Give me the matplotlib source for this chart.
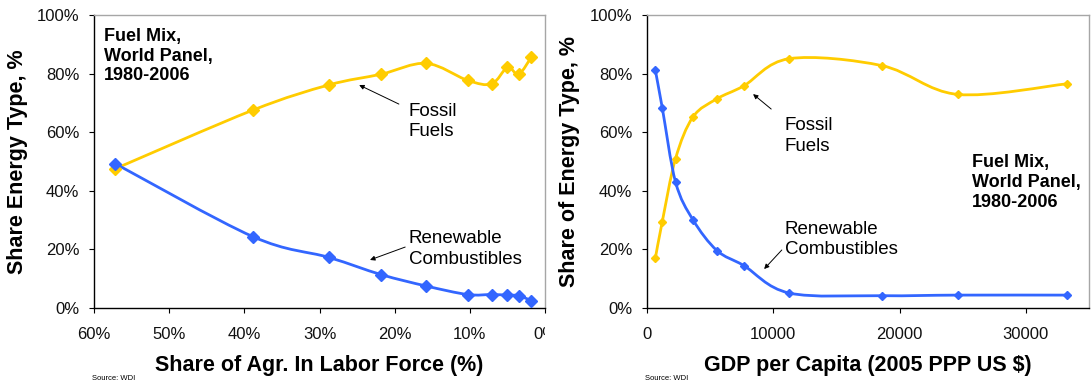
import numpy as np
import matplotlib
matplotlib.use('Agg')
import matplotlib.pyplot as plt
from matplotlib.path import Path
from matplotlib.patches import PathPatch
from matplotlib.ticker import FuncFormatter
from matplotlib.transforms import Bbox, TransformedBbox

plt.rcParams['font.family'] = ['Liberation Sans', 'DejaVu Sans']

# left panel: share of agriculture in labour force (%)
agr_share = [57.2, 38.9, 28.8, 21.8, 15.8, 10.3, 7.1, 5.0, 3.5, 1.8]
agr_fossil = [47.5, 67.5, 76.1, 79.8, 83.5, 77.7, 76.5, 82.1, 79.8, 85.7]
agr_renew = [49.3, 24.4, 17.3, 11.4, 7.5, 4.6, 4.6, 4.4, 4.2, 2.5]

# right panel: GDP per capita (2005 PPP US $)
gdp = [660, 1210, 2260, 3640, 5540, 7660, 11270, 18620, 24600, 33220]
gdp_fossil = [17.0, 29.5, 51.0, 65.2, 71.4, 75.8, 85.1, 82.7, 72.9, 76.5]
gdp_renew = [81.2, 68.3, 43.0, 30.1, 19.6, 14.5, 5.1, 4.2, 4.4, 4.4]

yticks = [0, 20, 40, 60, 80, 100]
agr_ticks = [60, 50, 40, 30, 20, 10, 0]
gdp_ticks = [0, 10000, 20000, 30000]

YELLOW = '#FFCC00'
BLUE = '#3366FF'
GRAY = '#A6A6A6'


def smooth_path(x, y):
    # Excel-style smoothed line: cubic bezier segments (catmull-rom, 1/6 tension)
    p = np.column_stack([x, y]).astype(float)
    n = len(p)
    verts = [p[0]]
    codes = [Path.MOVETO]
    for i in range(n - 1):
        p0 = p[i - 1] if i > 0 else p[i]
        p3 = p[i + 2] if i + 2 < n else p[i + 1]
        c1 = p[i] + (p[i + 1] - p0) / 6
        c2 = p[i + 1] - (p3 - p[i]) / 6
        verts += [c1, c2, p[i + 1]]
        codes += [Path.CURVE4] * 3
    return Path(verts, codes)


def draw_series(ax, x, y, color, ms):
    ax.add_patch(PathPatch(smooth_path(x, y), fill=False, edgecolor=color,
                           lw=2.0, capstyle='round', joinstyle='round', zorder=3))
    ax.plot(x, y, linestyle='none', marker='D', ms=ms, color=color,
            mec=color, zorder=4)


def style_axes(ax):
    ax.spines['left'].set_color('black')
    ax.spines['bottom'].set_color('black')
    ax.spines['top'].set_color(GRAY)
    ax.spines['right'].set_color(GRAY)
    for s in ax.spines.values():
        s.set_linewidth(1.0)
    ax.set_ylim(0, 100)
    ax.set_yticks(yticks)
    ax.yaxis.set_major_formatter(FuncFormatter(lambda v, p: f'{v:.0f}%'))
    ax.tick_params(axis='both', direction='out', length=3.5, width=0.8,
                   labelsize=12, labelcolor='#111111', top=False, right=False)
    ax.tick_params(axis='y', pad=7)
    ax.tick_params(axis='x', pad=10)


def note(ax, text, xy, xytext_arrow, pos):
    ax.annotate('', xy=xy, xytext=xytext_arrow, xycoords='axes fraction',
                textcoords='axes fraction',
                arrowprops=dict(arrowstyle='-|>', color='black', lw=0.7,
                                mutation_scale=7, shrinkA=0, shrinkB=0))
    ax.text(pos[0], pos[1], text, transform=ax.transAxes, fontsize=13.5,
            va='center', ha='left', linespacing=1.25)


fig = plt.figure(figsize=(10.91, 3.86), dpi=100)
ax1 = fig.add_axes([94 / 1091, 78 / 386, 451 / 1091, 293 / 386])
ax2 = fig.add_axes([647 / 1091, 78 / 386, 442 / 1091, 293 / 386])

# left panel
style_axes(ax1)
ax1.set_xlim(60, 0)
ax1.set_xticks(agr_ticks)
ax1.xaxis.set_major_formatter(FuncFormatter(lambda v, p: f'{v:.0f}%'))
draw_series(ax1, agr_share, agr_fossil, YELLOW, 6)
draw_series(ax1, agr_share, agr_renew, BLUE, 6)
ax1.set_xlabel('Share of Agr. In Labor Force (%)', fontsize=15.5, fontweight='bold')
ax1.set_ylabel('Share Energy Type, %', fontsize=15.5, fontweight='bold')
ax1.xaxis.set_label_coords(0.5, -0.16)
ax1.yaxis.set_label_coords(-0.146, 0.5)
ax1.text(0.022, 0.955, 'Fuel Mix,\nWorld Panel,\n1980-2006', transform=ax1.transAxes,
         fontsize=13, fontweight='bold', va='top', ha='left', linespacing=1.2)
note(ax1, 'Fossil\nFuels', (0.588, 0.761), (0.676, 0.696), (0.698, 0.637))
note(ax1, 'Renewable\nCombustibles', (0.612, 0.164), (0.690, 0.208), (0.698, 0.201))

# clip the last x tick label at the panel edge like the original image
fig.canvas.draw()
clip = TransformedBbox(Bbox([[0, 0], [545 / 1091, 1]]), fig.transFigure)
for lab in ax1.get_xticklabels():
    lab.set_clip_box(clip)
    lab.set_clip_on(True)

# right panel
style_axes(ax2)
ax2.set_xlim(0, 35000)
ax2.set_xticks(gdp_ticks)
draw_series(ax2, gdp, gdp_fossil, YELLOW, 4)
draw_series(ax2, gdp, gdp_renew, BLUE, 4)
ax2.set_xlabel('GDP per Capita (2005 PPP US $)', fontsize=15.5, fontweight='bold')
ax2.set_ylabel('Share of Energy Type, %', fontsize=15.5, fontweight='bold')
ax2.xaxis.set_label_coords(0.5, -0.16)
ax2.yaxis.set_label_coords(-0.152, 0.5)
ax2.text(0.735, 0.428, 'Fuel Mix,\nWorld Panel,\n1980-2006', transform=ax2.transAxes,
         fontsize=13, fontweight='bold', va='center', ha='left', linespacing=1.2)
note(ax2, 'Fossil\nFuels', (0.240, 0.730), (0.281, 0.679), (0.312, 0.587))
note(ax2, 'Renewable\nCombustibles', (0.265, 0.133), (0.305, 0.198), (0.312, 0.235))

fig.text(92 / 1091, 1 - 378 / 386, 'Source: WDI', fontsize=5.5, va='center', ha='left')
fig.text(645 / 1091, 1 - 379 / 386, 'Source: WDI', fontsize=5.5, va='center', ha='left')

fig.savefig('out.png', dpi=100)
